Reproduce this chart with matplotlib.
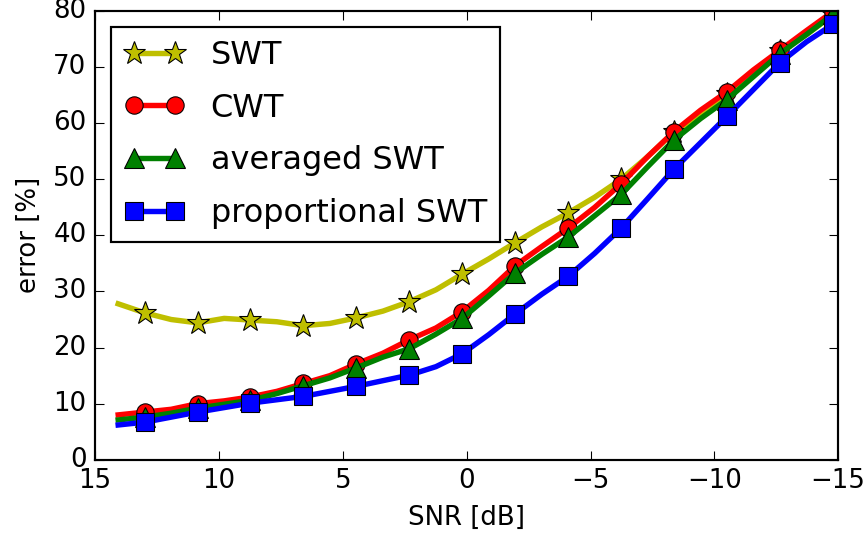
import matplotlib
matplotlib.use("Agg")
import matplotlib.pyplot as plt

plt.style.use("classic")

snr = [14.07, 13.0, 11.93, 10.86, 9.79, 8.73, 7.66, 6.59, 5.52, 4.45,
       3.38, 2.31, 1.24, 0.18, -0.89, -1.96, -3.03, -4.10, -5.17, -6.24,
       -7.30, -8.37, -9.44, -10.51, -11.58, -12.65, -13.72, -14.79, -15.86]

swt = [27.8, 26.2, 25.0, 24.4, 25.2, 24.9, 24.6, 23.9, 24.3, 25.3,
       26.5, 28.2, 30.3, 33.1, 35.8, 38.7, 41.5, 44.0, 46.8, 50.0,
       54.0, 58.4, 61.5, 65.2, 68.5, 72.8, 75.8, 79.3, 82.5]

cwt = [8.0, 8.5, 9.0, 10.0, 10.5, 11.2, 12.2, 13.6, 15.0, 17.1,
       19.0, 21.4, 23.5, 26.4, 30.2, 34.6, 38.0, 41.3, 45.0, 49.2,
       54.0, 58.5, 62.3, 65.6, 69.5, 73.0, 76.5, 79.9, 83.0]

avg_swt = [7.1, 7.6, 8.3, 9.2, 9.9, 10.6, 11.8, 13.2, 14.6, 16.4,
           18.3, 19.8, 22.4, 25.2, 29.2, 33.3, 36.6, 39.7, 43.5, 47.3,
           52.2, 57.0, 60.8, 64.2, 68.3, 72.4, 75.8, 79.4, 82.0]

prop_swt = [6.2, 6.7, 7.6, 8.5, 9.3, 10.1, 10.7, 11.3, 12.2, 13.1,
            14.1, 15.1, 16.6, 18.9, 22.3, 26.0, 29.5, 32.7, 36.8, 41.3,
            46.5, 51.8, 56.5, 61.2, 66.0, 70.8, 74.5, 77.6, 80.8]

labels = ["SWT", "CWT", "averaged SWT", "proportional SWT"]

DPI = 156
fig = plt.figure(figsize=(865 / DPI, 548 / DPI), dpi=DPI, facecolor="white")
ax = fig.add_axes([0.110, 0.161, 0.859, 0.819])

mk = (1, 2)
ax.plot(snr, swt, "y-*", lw=2.5, ms=11, markevery=mk, label=labels[0])
ax.plot(snr, cwt, "r-o", lw=2.5, ms=8, markevery=mk, label=labels[1])
ax.plot(snr, avg_swt, "g-^", lw=2.5, ms=9, markevery=mk, label=labels[2])
ax.plot(snr, prop_swt, "b-s", lw=2.5, ms=8, markevery=mk, label=labels[3])

ax.set_xlim(15, -15)
ax.set_ylim(0, 80)
ax.set_xlabel("SNR [dB]")
ax.set_ylabel("error [%]")
ax.legend(loc="upper left", numpoints=2, fontsize=14.8, labelspacing=0.68,
          handlelength=1.9)

fig.savefig("out.png", dpi=DPI, facecolor="white")
